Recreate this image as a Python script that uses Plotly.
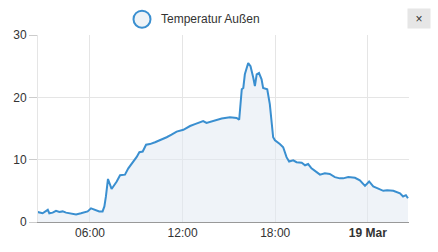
import plotly.graph_objects as go

times_18 = ["02:37", "02:56", "03:16", "03:22", "03:35", "03:48", "04:01", "04:14", "04:27", "04:40",
            "04:53", "05:06", "05:25", "05:38", "05:51", "06:04", "06:17", "06:36", "06:49", "06:56",
            "07:02", "07:10", "07:24", "07:44", "07:57", "08:16", "08:29", "08:48", "09:01", "09:12",
            "09:25", "09:38", "09:53", "10:13", "10:32", "10:58", "11:17", "11:37", "12:03", "12:29",
            "12:48", "13:20", "13:33", "13:59", "14:32", "15:04", "15:30", "15:40", "15:50", "15:56",
            "16:02", "16:15", "16:24", "16:35", "16:41", "16:48", "16:57", "17:07", "17:13", "17:29",
            "17:39", "17:52", "17:59", "18:18", "18:31", "18:44", "18:54", "19:10", "19:23", "19:43",
            "19:56", "20:08", "20:21", "20:41", "20:54", "21:13", "21:32", "21:52", "22:11", "22:24",
            "22:44", "23:10", "23:29", "23:49"]
times_19 = ["00:05", "00:21", "00:40", "01:00", "01:15", "01:39", "02:05", "02:17", "02:28", "02:36"]

temps = [1.6, 1.4, 1.95, 1.4, 1.5, 1.8, 1.6, 1.7, 1.5, 1.4,
         1.2, 1.2, 1.4, 1.5, 1.7, 2.2, 1.95, 1.7, 1.7, 2.5,
         4.1, 6.9, 5.3, 6.5, 7.5, 7.6, 8.6, 9.6, 10.4, 11.2,
         11.3, 12.4, 12.5, 12.8, 13.1, 13.6, 14.0, 14.5, 14.8, 15.4,
         15.7, 16.2, 15.9, 16.2, 16.6, 16.8, 16.7, 16.4, 21.3, 21.5,
         23.7, 25.5, 25.0, 23.1, 21.8, 23.7, 23.9, 22.9, 21.5, 21.3,
         18.9, 13.6, 13.1, 12.5, 12.0, 10.4, 9.7, 9.9, 9.6, 9.5,
         9.1, 9.3, 8.6, 8.0, 7.6, 7.8, 7.7, 7.2, 7.0, 7.0,
         7.2, 7.1, 6.7, 5.8,
         6.5, 5.7, 5.4, 5.0, 5.1, 5.0, 4.6, 4.1, 4.3, 3.8]

x_ticks = ["2019-03-18 06:00", "2019-03-18 12:00", "2019-03-18 18:00", "2019-03-19 00:00"]
x_tick_labels = ["06:00", "12:00", "18:00", "<b>19 Mar</b>"]
y_ticks = [0, 10, 20, 30]
series_name = "Temperatur Außen"

times = ["2019-03-18 " + t for t in times_18] + ["2019-03-19 " + t for t in times_19]

line_color = "#3a8fd0"
fill_color = "rgba(225,234,242,0.55)"

fig = go.Figure()
fig.add_trace(go.Scatter(
    x=times, y=temps, mode="lines", name=series_name,
    line=dict(color=line_color, width=2),
    fill="tozeroy", fillcolor=fill_color, showlegend=False,
))

fig.update_layout(
    width=438, height=252,
    margin=dict(l=38, r=29, t=35, b=28),
    paper_bgcolor="white", plot_bgcolor="white",
    font=dict(family="Liberation Sans, Arial, sans-serif", size=12, color="#333"),
    showlegend=False,
    xaxis=dict(
        type="date",
        range=["2019-03-18 02:38", "2019-03-19 02:40"],
        tickvals=x_ticks, ticktext=x_tick_labels,
        showgrid=True, gridcolor="#e5e5e5", gridwidth=1,
        showline=True, linecolor="#999", linewidth=1,
        ticks="", zeroline=False,
        tickfont=dict(size=12, color="#333"),
    ),
    yaxis=dict(
        range=[0, 30], tickvals=y_ticks,
        showgrid=True, gridcolor="#e5e5e5", gridwidth=1,
        showline=True, linecolor="#e5e5e5", linewidth=1,
        ticks="outside", ticklen=8, tickcolor="#ccc",
        zeroline=False,
        tickfont=dict(size=12, color="#333"),
    ),
)

# legend symbol (circle) and label
fig.add_shape(type="circle", xref="paper", yref="paper",
              xsizemode="pixel", ysizemode="pixel",
              xanchor=(142 - 38) / 371, yanchor=(224 - 19) / 189,
              x0=-8.5, x1=8.5, y0=-8.5, y1=8.5,
              line=dict(color=line_color, width=2), fillcolor="#eef3f7")
fig.add_annotation(text=series_name, xref="paper", yref="paper",
                   x=(159 - 38) / 371, y=(224 - 18.5) / 189,
                   xanchor="left", yanchor="middle", showarrow=False,
                   font=dict(size=12, color="#333"))
# close button
fig.add_annotation(text="×", xref="paper", yref="paper",
                   x=(407 - 38) / 371, y=(224 - 8) / 189,
                   xanchor="left", yanchor="top", showarrow=False,
                   width=20, height=17, bgcolor="#e6e6e6",
                   font=dict(size=12, color="#333"))

fig.write_html("out.html")
